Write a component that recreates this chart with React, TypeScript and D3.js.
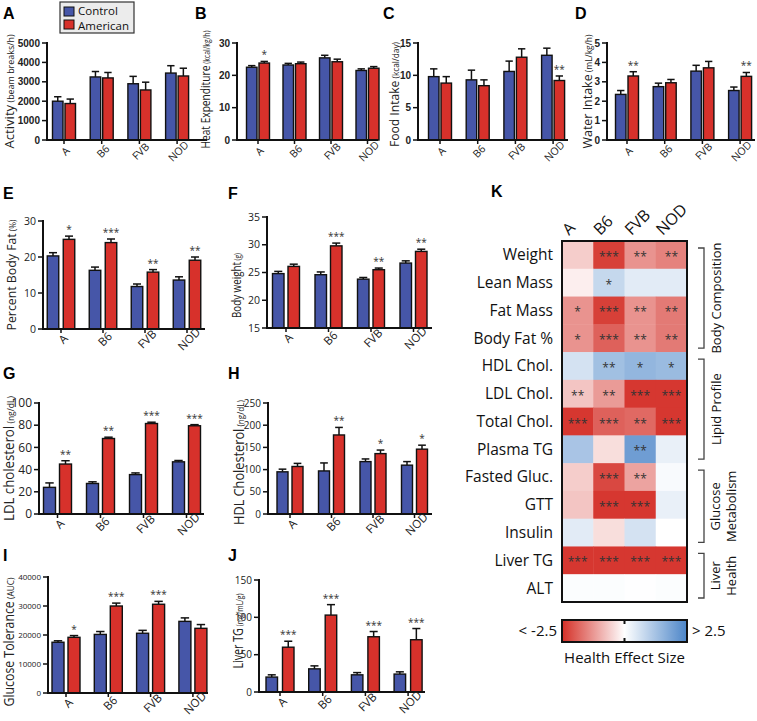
import React from "react";
import * as d3 from "d3";

const strains = ["A", "B6", "FVB", "NOD"];

// A: Activity
const activityControl = [2000, 3250, 2900, 3450];
const activityControlErr = [230, 280, 380, 380];
const activityAmerican = [1880, 3200, 2580, 3300];
const activityAmericanErr = [230, 280, 400, 400];
const activityStars = ["", "", "", ""];
const activityTicks = [0, 1000, 2000, 3000, 4000, 5000];

// B: Heat expenditure
const heatControl = [22.5, 23.2, 25.4, 21.5];
const heatControlErr = [0.5, 0.5, 0.8, 0.5];
const heatAmerican = [23.8, 23.6, 24.2, 22.2];
const heatAmericanErr = [0.5, 0.5, 0.8, 0.5];
const heatStars = ["*", "", "", ""];
const heatTicks = [0, 10, 20, 30];

// C: Food intake
const foodControl = [9.8, 9.3, 10.6, 13.1];
const foodControlErr = [1.2, 1.5, 1.6, 1.1];
const foodAmerican = [8.8, 8.4, 12.8, 9.2];
const foodAmericanErr = [1.0, 0.9, 1.3, 0.7];
const foodStars = ["", "", "", "**"];
const foodTicks = [0, 5, 10, 15];

// D: Water intake
const waterControl = [2.35, 2.75, 3.55, 2.55];
const waterControlErr = [0.2, 0.18, 0.3, 0.18];
const waterAmerican = [3.3, 2.95, 3.72, 3.28];
const waterAmericanErr = [0.22, 0.17, 0.33, 0.2];
const waterStars = ["**", "", "", "**"];
const waterTicks = [0, 1, 2, 3, 4, 5];

// E: Percent body fat
const fatControl = [20.3, 16.3, 11.8, 13.6];
const fatControlErr = [0.9, 0.9, 0.7, 0.9];
const fatAmerican = [24.9, 24.0, 15.8, 19.1];
const fatAmericanErr = [0.9, 1.0, 0.7, 0.9];
const fatStars = ["*", "***", "**", "**"];
const fatTicks = [0, 10, 20, 30];

// F: Body weight
const weightControl = [24.8, 24.6, 23.8, 26.7];
const weightControlErr = [0.4, 0.5, 0.3, 0.4];
const weightAmerican = [26.1, 29.8, 25.5, 28.8];
const weightAmericanErr = [0.4, 0.5, 0.3, 0.4];
const weightStars = ["", "***", "**", "**"];
const weightTicks = [15, 20, 25, 30, 35];

// G: LDL cholesterol
const ldlControl = [24, 27.5, 35.5, 47];
const ldlControlErr = [4, 1.5, 1.5, 1.2];
const ldlAmerican = [45, 68, 81.5, 79.5];
const ldlAmericanErr = [3, 1.2, 1.2, 1];
const ldlStars = ["**", "**", "***", "***"];
const ldlTicks = [0, 20, 40, 60, 80, 100];

// H: HDL cholesterol
const hdlControl = [95, 97, 118, 110];
const hdlControlErr = [6, 18, 6, 8];
const hdlAmerican = [107, 178, 136, 146];
const hdlAmericanErr = [7, 17, 8, 9];
const hdlStars = ["", "**", "*", "*"];
const hdlTicks = [0, 50, 100, 150, 200, 250];

// I: Glucose tolerance
const gttControl = [17500, 20200, 20600, 24700];
const gttControlErr = [500, 1000, 1000, 1200];
const gttAmerican = [19200, 30000, 30600, 22300];
const gttAmericanErr = [600, 1000, 1000, 1300];
const gttStars = ["*", "***", "***", ""];
const gttTicks = [0, 10000, 20000, 30000, 40000];

// J: Liver TG
const livControl = [20, 31, 23, 24];
const livControlErr = [3, 4, 3, 3];
const livAmerican = [60, 103, 74, 70];
const livAmericanErr = [8, 14, 7, 15];
const livStars = ["***", "***", "***", "***"];
const livTicks = [0, 50, 100, 150];

// K: Heatmap
const heatRows = ["Weight", "Lean Mass", "Fat Mass", "Body Fat %", "HDL Chol.", "LDL Chol.", "Total Chol.", "Plasma TG", "Fasted Gluc.", "GTT", "Insulin", "Liver TG", "ALT"];
const effA = [-0.6, -0.2, -1.3, -1.3, 0.6, -0.7, -2.4, 1.2, -0.6, -0.7, 0.4, -2.4, 0.05];
const effB6 = [-2.3, 0.8, -2.3, -1.9, 1.3, -1.2, -1.9, -0.4, -2.2, -2.4, -0.4, -2.4, 0.05];
const effFVB = [-1.3, 0.4, -1.3, -1.3, 1.5, -2.4, -1.8, 2.0, -1.1, -2.4, 0.6, -2.4, 0.02];
const effNOD = [-1.5, 0.4, -1.6, -1.6, 1.4, -2.4, -2.4, 0.3, 0.1, 0.3, 0, -2.4, 0.05];
const starsA = ["", "", "*", "*", "", "**", "***", "", "", "", "", "***", ""];
const starsB6 = ["***", "*", "***", "***", "**", "**", "***", "", "***", "***", "", "***", ""];
const starsFVB = ["**", "", "**", "**", "*", "***", "**", "**", "**", "***", "", "***", ""];
const starsNOD = ["**", "", "**", "**", "*", "***", "***", "", "", "", "", "***", ""];
const groupNames = [["Body Composition"], ["Lipid Profile"], ["Glucose", "Metabolism"], ["Liver", "Health"]];
const groupRows = [[0, 3], [4, 7], [8, 10], [11, 12]];
const scaleLabels = ["< -2.5", "> 2.5"];
const scaleTitle = "Health Effect Size";

const BLUE = "#4656a8";
const RED = "#d7312b";
const SANS = "'Open Sans', 'DejaVu Sans', sans-serif";
const ARIAL = "'Liberation Sans', Arial, sans-serif";

type PanelProps = {
  label: string; labelX: number; labelY: number;
  axisX: number; axisEnd: number; yTop: number; yBottom: number;
  domain: [number, number]; ticks: number[];
  offset: number; step: number; bw: number; gap: number;
  control: number[]; controlErr: number[]; american: number[]; americanErr: number[]; stars: string[];
  title: string; unit: string; titleX: number; titleSize: number; unitSize: number; titleShift?: number; titleLen: number;
  tickSize: number; tickBold?: boolean; catSize: number; catDx: number; catDy: number;
};

function BarPanel(p: PanelProps) {
  const y = d3.scaleLinear().domain(p.domain).range([p.yBottom, p.yTop]);
  const cx = (i: number) => p.axisX + p.offset + i * p.step;
  const cy = (p.yTop + p.yBottom) / 2 + (p.titleShift || 0);
  const bars: any[] = [];
  strains.forEach((s, i) => {
    const series = [
      { v: p.control[i], e: p.controlErr[i], fill: BLUE, x: cx(i) - p.gap / 2 - p.bw, st: "" },
      { v: p.american[i], e: p.americanErr[i], fill: RED, x: cx(i) + p.gap / 2, st: p.stars[i] },
    ];
    series.forEach((b, j) => {
      const mid = b.x + p.bw / 2;
      const top = y(b.v + b.e);
      bars.push(
        <g key={s + j}>
          <line x1={mid} x2={mid} y1={y(b.v)} y2={top} stroke="#111" strokeWidth={1.5} />
          <line x1={mid - p.bw * 0.35} x2={mid + p.bw * 0.35} y1={top} y2={top} stroke="#111" strokeWidth={1.5} />
          <rect x={b.x} y={y(b.v)} width={p.bw} height={p.yBottom - y(b.v)} fill={b.fill} stroke="#111" strokeWidth={1.4} />
          {b.st ? (
            <text x={mid} y={top - 3} textAnchor="middle" fontSize={10} fill="#333" fontFamily={SANS}>{b.st}</text>
          ) : null}
        </g>
      );
    });
  });
  return (
    <g>
      <text x={p.labelX} y={p.labelY} fontFamily={ARIAL} fontWeight="bold" fontSize={16} fill="#000">{p.label}</text>
      {bars}
      <line x1={p.axisX} x2={p.axisX} y1={p.yTop - 1} y2={p.yBottom} stroke="#111" strokeWidth={2} />
      <line x1={p.axisX - 1} x2={p.axisEnd} y1={p.yBottom} y2={p.yBottom} stroke="#111" strokeWidth={2} />
      {p.ticks.map((t) => (
        <g key={t}>
          <line x1={p.axisX - 5} x2={p.axisX} y1={y(t)} y2={y(t)} stroke="#111" strokeWidth={1.5} />
          <text x={p.axisX - 7} y={y(t)} dy="0.35em" textAnchor="end" fontSize={p.tickSize}
            fontFamily={p.tickBold ? ARIAL : SANS} fontWeight={p.tickBold ? "bold" : "normal"} fill="#222">{t}</text>
        </g>
      ))}
      {strains.map((s, i) => (
        <g key={s}>
          <line x1={cx(i)} x2={cx(i)} y1={p.yBottom} y2={p.yBottom + 4} stroke="#111" strokeWidth={1.5} />
          <text transform={`translate(${cx(i) + p.catDx},${p.yBottom + p.catDy}) rotate(-45)`} textAnchor="middle"
            fontSize={p.catSize} fontFamily={SANS} fill="#222">{s}</text>
        </g>
      ))}
      <text transform={`translate(${p.titleX},${cy}) rotate(-90)`} textAnchor="middle" fontFamily={SANS} fill="#222"
        fontSize={p.titleSize} textLength={p.titleLen} lengthAdjust="spacingAndGlyphs">
        {p.title}<tspan fontSize={p.unitSize}>{" " + p.unit}</tspan>
      </text>
    </g>
  );
}

function Legend() {
  return (
    <g>
      <rect x={60} y={2} width={74} height={31} fill="#ececec" stroke="#333" strokeWidth={1.2} />
      <rect x={64} y={7} width={10} height={9} fill={BLUE} stroke="#111" strokeWidth={1} />
      <text x={78} y={14.5} fontFamily={SANS} fontSize={11.5} fill="#111">Control</text>
      <rect x={64} y={20} width={10} height={9} fill={RED} stroke="#111" strokeWidth={1} />
      <text x={78} y={30.2} fontFamily={SANS} fontSize={11.5} fill="#111">American</text>
    </g>
  );
}

function Heatmap() {
  const left = 562, right = 687, top = 241, bottom = 602;
  const cols = [effA, effB6, effFVB, effNOD];
  const colStars = [starsA, starsB6, starsFVB, starsNOD];
  const xb = d3.scaleBand().domain(strains).range([left, right]);
  const yb = d3.scaleBand().domain(heatRows).range([top, bottom]);
  const color = d3.scaleLinear<string>().domain([-2.5, 0, 2.5]).range(["#d42f27", "#ffffff", "#4b85c8"]).clamp(true);
  const cbL = 562, cbR = 687, cbT = 620, cbB = 642;
  const gradStops = d3.range(0, 1.0001, 0.1);
  return (
    <g>
      <defs>
        <linearGradient id="cbar" x1="0" x2="1" y1="0" y2="0">
          {gradStops.map((t) => (
            <stop key={t} offset={t} stopColor={color(-2.5 + 5 * t)} />
          ))}
        </linearGradient>
      </defs>
      <text x={491} y={197} fontFamily={ARIAL} fontWeight="bold" fontSize={16}>K</text>
      {strains.map((s) => (
        <text key={s} transform={`translate(${(xb(s) as number) + 7},${236}) rotate(-45)`} fontFamily={SANS} fontSize={16} fill="#111">{s}</text>
      ))}
      {heatRows.map((r, ri) => (
        <g key={r}>
          <text x={553} y={(yb(r) as number) + yb.bandwidth() / 2} dy="0.35em" textAnchor="end" fontFamily={SANS} fontSize={15.5} fill="#111">{r}</text>
          {strains.map((s, ci) => (
            <g key={s}>
              <rect x={xb(s)} y={yb(r)} width={xb.bandwidth() + 0.5} height={yb.bandwidth() + 0.5} fill={color(cols[ci][ri])} />
              {colStars[ci][ri] ? (
                <text x={(xb(s) as number) + xb.bandwidth() / 2} y={(yb(r) as number) + yb.bandwidth() / 2 + 6} textAnchor="middle" fontFamily={SANS} fontSize={12} fill="#333">{colStars[ci][ri]}</text>
              ) : null}
            </g>
          ))}
        </g>
      ))}
      <rect x={left} y={top} width={right - left} height={bottom - top} fill="none" stroke="#111" strokeWidth={2} />
      {groupRows.map((g, gi) => {
        const y1 = (yb(heatRows[g[0]]) as number) + 7;
        const y2 = (yb(heatRows[g[1]]) as number) + yb.bandwidth() - 4;
        const mid = (y1 + y2) / 2;
        const names = groupNames[gi];
        return (
          <g key={gi}>
            <path d={`M698,${y1}H704V${y2}H698`} fill="none" stroke="#444" strokeWidth={1.3} />
            {names.map((n, ni) => (
              <text key={n} transform={`translate(${names.length === 1 ? 721 : 720 + ni * 16},${mid}) rotate(-90)`} textAnchor="middle" fontFamily={SANS} fontSize={13} fill="#111">{n}</text>
            ))}
          </g>
        );
      })}
      <rect x={cbL} y={cbT} width={cbR - cbL} height={cbB - cbT} fill="url(#cbar)" stroke="#111" strokeWidth={2} />
      <line x1={(cbL + cbR) / 2} x2={(cbL + cbR) / 2} y1={cbT} y2={cbT + 4} stroke="#111" strokeWidth={2} />
      <line x1={(cbL + cbR) / 2} x2={(cbL + cbR) / 2} y1={cbB - 4} y2={cbB} stroke="#111" strokeWidth={2} />
      <text x={557} y={636} textAnchor="end" fontFamily={SANS} fontSize={15} fill="#111">{scaleLabels[0]}</text>
      <text x={692} y={636} fontFamily={SANS} fontSize={15} fill="#111">{scaleLabels[1]}</text>
      <text x={(cbL + cbR) / 2} y={663} textAnchor="middle" fontFamily={SANS} fontSize={15} fill="#111">{scaleTitle}</text>
    </g>
  );
}

export default function App() {
  const top = { yTop: 43, yBottom: 140, bw: 10.5, gap: 2, tickSize: 10, tickBold: true, catSize: 10.5, catDx: 4, catDy: 14, titleSize: 12.5, unitSize: 8.5 };
  const low = { catSize: 11.5, catDx: 5, catDy: 13 };
  return (
    <svg width={757} height={721} style={{ position: "absolute", left: 0, top: 0, background: "#fff" }}>
      <rect width={757} height={721} fill="#fff" />
      <BarPanel {...top} label="A" labelX={3} labelY={19} axisX={47} axisEnd={207} domain={[0, 5000]} ticks={activityTicks}
        offset={17} step={37.7} control={activityControl} controlErr={activityControlErr} american={activityAmerican}
        americanErr={activityAmericanErr} stars={activityStars} title="Activity" unit="(beam breaks/h)" titleX={14} titleLen={114} />
      <BarPanel {...top} label="B" labelX={195} labelY={19} axisX={237} axisEnd={378} domain={[0, 30]} ticks={heatTicks}
        offset={21} step={36.5} control={heatControl} controlErr={heatControlErr} american={heatAmerican}
        americanErr={heatAmericanErr} stars={heatStars} title="Heat Expenditure" unit="(kcal/kg/h)" titleX={210} titleLen={118} titleShift={-2} />
      <BarPanel {...top} label="C" labelX={383} labelY={19} axisX={418} axisEnd={568} domain={[0, 15]} ticks={foodTicks}
        offset={22} step={37.7} control={foodControl} controlErr={foodControlErr} american={foodAmerican}
        americanErr={foodAmericanErr} stars={foodStars} title="Food Intake" unit="(kcal/day)" titleX={399} titleLen={105} titleShift={3} />
      <BarPanel {...top} label="D" labelX={575} labelY={19} axisX={607} axisEnd={755} domain={[0, 5]} ticks={waterTicks}
        offset={20} step={37.7} control={waterControl} controlErr={waterControlErr} american={waterAmerican}
        americanErr={waterAmericanErr} stars={waterStars} title="Water Intake" unit="(mL/kg/h)" titleX={592} titleLen={114} />
      <Legend />

      <BarPanel {...low} label="E" labelX={3} labelY={199} axisX={43} axisEnd={205} yTop={221} yBottom={329} domain={[0, 30]} ticks={fatTicks}
        offset={18} step={42} bw={11.5} gap={4.5} tickSize={10.5} titleSize={13.5} unitSize={9} titleLen={111}
        control={fatControl} controlErr={fatControlErr} american={fatAmerican} americanErr={fatAmericanErr} stars={fatStars}
        title="Percent Body Fat" unit="(%)" titleX={16} />
      <BarPanel {...low} label="F" labelX={228} labelY={199} axisX={267} axisEnd={432} yTop={217} yBottom={328} domain={[15, 35]} ticks={weightTicks}
        offset={19} step={42.5} bw={11.5} gap={4} tickSize={10.5} titleSize={13.5} unitSize={9} titleLen={65} titleShift={13}
        control={weightControl} controlErr={weightControlErr} american={weightAmerican} americanErr={weightAmericanErr} stars={weightStars}
        title="Body weight" unit="(g)" titleX={241} />

      <BarPanel {...low} label="G" labelX={3} labelY={379} axisX={39} axisEnd={204} yTop={403} yBottom={514} domain={[0, 100]} ticks={ldlTicks}
        offset={18.5} step={43} bw={12} gap={4} tickSize={12} titleSize={14} unitSize={9} titleLen={125}
        control={ldlControl} controlErr={ldlControlErr} american={ldlAmerican} americanErr={ldlAmericanErr} stars={ldlStars}
        title="LDL cholesterol" unit="(ng/dL)" titleX={14} />
      <BarPanel {...low} label="H" labelX={228} labelY={379} axisX={268} axisEnd={432} yTop={403} yBottom={514} domain={[0, 250]} ticks={hdlTicks}
        offset={22} step={41.5} bw={11} gap={4} tickSize={10} titleSize={14} unitSize={9} titleLen={125} titleShift={4}
        control={hdlControl} controlErr={hdlControlErr} american={hdlAmerican} americanErr={hdlAmericanErr} stars={hdlStars}
        title="HDL Cholesterol" unit="(ng/dL)" titleX={244} />

      <BarPanel {...low} label="I" labelX={3} labelY={561} axisX={48} axisEnd={208} yTop={577} yBottom={693} domain={[0, 40000]} ticks={gttTicks}
        offset={18} step={42.3} bw={12} gap={4} tickSize={8} titleSize={14} unitSize={9.5} titleLen={129} titleShift={7}
        control={gttControl} controlErr={gttControlErr} american={gttAmerican} americanErr={gttAmericanErr} stars={gttStars}
        title="Glucose Tolerance" unit="(AUC)" titleX={14} />
      <BarPanel {...low} label="J" labelX={228} labelY={561} axisX={259} axisEnd={425} yTop={580} yBottom={692} domain={[0, 150]} ticks={livTicks}
        offset={21} step={42.7} bw={11.5} gap={5} tickSize={10} titleSize={14} unitSize={9} titleLen={75} titleShift={-5}
        control={livControl} controlErr={livControlErr} american={livAmerican} americanErr={livAmericanErr} stars={livStars}
        title="Liver TG" unit="(mg/mL/g)" titleX={243} />

      <Heatmap />
    </svg>
  );
}
